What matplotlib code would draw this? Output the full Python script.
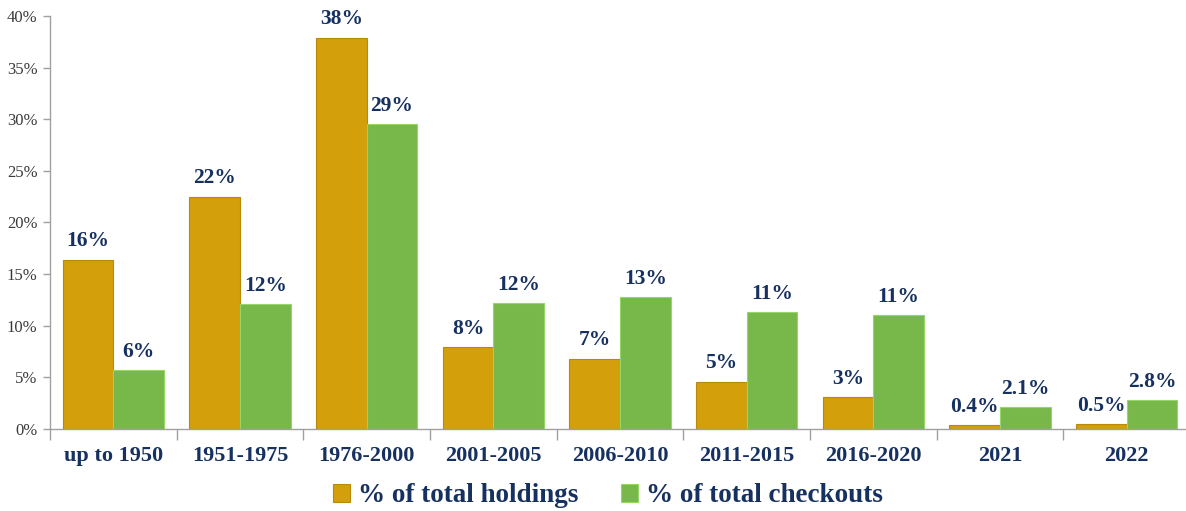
import numpy as np
import matplotlib.pyplot as plt
from matplotlib.ticker import FuncFormatter, FixedLocator

categories = ['up to 1950', '1951-1975', '1976-2000', '2001-2005', '2006-2010',
              '2011-2015', '2016-2020', '2021', '2022']
holdings = [16.4, 22.5, 37.9, 7.9, 6.8, 4.6, 3.1, 0.4, 0.5]
checkouts = [5.7, 12.1, 29.5, 12.2, 12.8, 11.3, 11.0, 2.1, 2.8]
holdings_labels = ['16%', '22%', '38%', '8%', '7%', '5%', '3%', '0.4%', '0.5%']
checkouts_labels = ['6%', '12%', '29%', '12%', '13%', '11%', '11%', '2.1%', '2.8%']

plt.rcParams['font.family'] = ['Liberation Serif', 'DejaVu Serif']
navy = '#16305f'
gold = '#d3a00b'
green = '#78b749'

fig = plt.figure(figsize=(11.86, 5.11), dpi=100)
ax = fig.add_axes([50/1186, 1 - 429/511, 1140/1186, 413/511])

x = np.arange(len(categories))
w = 0.4
b1 = ax.bar(x - w/2, holdings, w, color=gold, edgecolor='#b98a08', linewidth=0.8,
            label='% of total holdings')
b2 = ax.bar(x + w/2, checkouts, w, color=green, edgecolor='#93d866', linewidth=0.8,
            label='% of total checkouts')

ax.bar_label(b1, labels=holdings_labels, padding=6, color=navy, fontsize=15.5,
             fontweight='bold')
ax.bar_label(b2, labels=checkouts_labels, padding=6, color=navy, fontsize=15.5,
             fontweight='bold')

ax.set_xlim(-0.5, len(categories) - 0.5)
ax.set_ylim(0, 40)
ax.set_yticks(np.arange(0, 41, 5))
ax.yaxis.set_major_formatter(FuncFormatter(lambda v, p: f'{v:.0f}%'))
ax.tick_params(axis='y', labelsize=12, labelcolor='#3a3a3a', color='#a0a0a0',
               length=5, width=1, pad=4)

ax.set_xticks(x)
ax.set_xticklabels(categories, fontsize=16, fontweight='bold', color=navy)
ax.tick_params(axis='x', length=0, pad=12)
ax.xaxis.set_minor_locator(FixedLocator(np.arange(-0.5, len(categories), 1)))
ax.tick_params(axis='x', which='minor', length=8, color='#a0a0a0', width=1)

for s in ['top', 'right']:
    ax.spines[s].set_visible(False)
for s in ['left', 'bottom']:
    ax.spines[s].set_color('#a0a0a0')
    ax.spines[s].set_linewidth(1)

leg = fig.legend(handles=[b1, b2], loc='center', bbox_to_anchor=(608/1186, 1 - 496/511),
                 ncol=2, frameon=False, handlelength=0.6, handleheight=0.6,
                 handletextpad=0.3, columnspacing=1.6,
                 prop={'size': 19.5, 'weight': 'bold'})
for t in leg.get_texts():
    t.set_color(navy)

fig.savefig('out.png', dpi=100)
